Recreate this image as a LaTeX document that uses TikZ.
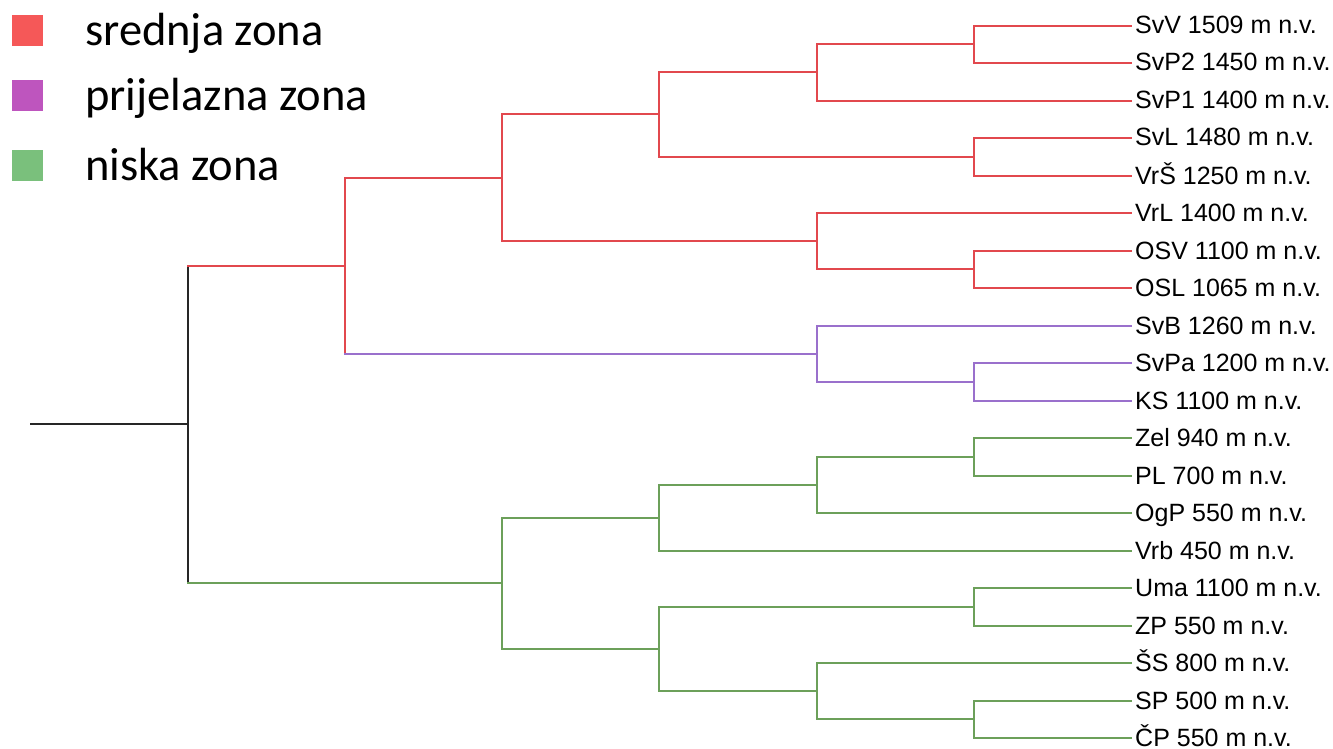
\documentclass[tikz,border=0pt]{standalone}
\usepackage{fontspec}
\setmainfont{Liberation Sans}
\newfontfamily\legfont{Carlito}
\definecolor{lred}{RGB}{226,72,78}
\definecolor{lpur}{RGB}{154,112,204}
\definecolor{lgrn}{RGB}{108,160,90}
\definecolor{kred}{RGB}{245,88,88}
\definecolor{kpur}{RGB}{190,85,190}
\definecolor{kgrn}{RGB}{122,192,124}
\tikzset{
  br/.style={line width=2pt, line cap=rect},
  leaflabel/.style={anchor=base west, inner sep=0pt, font=\fontsize{25}{30}\selectfont},
  legbox/.style={minimum size=31pt, inner sep=0pt, anchor=south west},
  legtext/.style={anchor=base west, inner sep=0pt, font=\legfont\fontsize{46.5}{55}\selectfont}
}
\begin{document}
\begin{tikzpicture}[x=1pt,y=-1pt]
\useasboundingbox (0,0) rectangle (1333,749);
% legend
\node[legbox, fill=kred] (k1) at (12,46) {};
\node[legbox, fill=kpur] (k2) at (12,111) {};
\node[legbox, fill=kgrn] (k3) at (12,181) {};
\node[legtext] (t1) at (85,45.5) {srednja zona};
\node[legtext] (t2) at (85,110.5) {prijelazna zona};
\node[legtext] (t3) at (85,180) {niska zona};
% leaves
\foreach \i/\y/\t in {0/26/SvV 1509 m n.v., 1/63/SvP2 1450 m n.v., 2/101/SvP1 1400 m n.v., 3/138/SvL 1480 m n.v., 4/176/VrŠ 1250 m n.v., 5/213/VrL 1400 m n.v., 6/251/OSV 1100 m n.v., 7/288/OSL 1065 m n.v., 8/326/SvB 1260 m n.v., 9/363/SvPa 1200 m n.v., 10/401/KS 1100 m n.v., 11/438/Zel 940 m n.v., 12/476/PL 700 m n.v., 13/513/OgP 550 m n.v., 14/551/Vrb 450 m n.v., 15/588/Uma 1100 m n.v., 16/626/ZP 550 m n.v., 17/663/ŠS 800 m n.v., 18/701/SP 500 m n.v., 19/738/ČP 550 m n.v.}{
  \coordinate (L\i) at (1131,\y);
  \node[leaflabel] (N\i) at (1135,{\y+8}) {\t};
}
% internal nodes
\coordinate (a1) at (974,44);
\coordinate (a2) at (817,72);
\coordinate (a3) at (974,157);
\coordinate (a4) at (659,114);
\coordinate (a5) at (974,269);
\coordinate (a6) at (817,241);
\coordinate (a7) at (502,178);
\coordinate (b1) at (974,382);
\coordinate (b2) at (817,354);
\coordinate (r) at (345,266);
\coordinate (g1) at (974,457);
\coordinate (g2) at (817,485);
\coordinate (g3) at (659,518);
\coordinate (g4) at (974,607);
\coordinate (g5) at (974,719);
\coordinate (g6) at (817,691);
\coordinate (g7) at (659,649);
\coordinate (g8) at (502,583);
\coordinate (root) at (188,424);
\coordinate (start) at (31,424);
% edges: parent colour / child colour
\foreach \p/\c/\pc/\cc in {
  a1/L0/lred/lred, a1/L1/lred/lred, a2/a1/lred/lred, a2/L2/lred/lred,
  a3/L3/lred/lred, a3/L4/lred/lred, a4/a2/lred/lred, a4/a3/lred/lred,
  a5/L6/lred/lred, a5/L7/lred/lred, a6/L5/lred/lred, a6/a5/lred/lred,
  a7/a4/lred/lred, a7/a6/lred/lred,
  b1/L9/lpur/lpur, b1/L10/lpur/lpur, b2/L8/lpur/lpur, b2/b1/lpur/lpur,
  r/a7/lred/lred, r/b2/lred/lpur,
  g1/L11/lgrn/lgrn, g1/L12/lgrn/lgrn, g2/g1/lgrn/lgrn, g2/L13/lgrn/lgrn,
  g3/g2/lgrn/lgrn, g3/L14/lgrn/lgrn, g4/L15/lgrn/lgrn, g4/L16/lgrn/lgrn,
  g5/L18/lgrn/lgrn, g5/L19/lgrn/lgrn, g6/L17/lgrn/lgrn, g6/g5/lgrn/lgrn,
  g7/g4/lgrn/lgrn, g7/g6/lgrn/lgrn, g8/g3/lgrn/lgrn, g8/g7/lgrn/lgrn,
  root/r/black!85/lred, root/g8/black!85/lgrn}{
  \draw[br, \pc] (\p) -- (\p |- \c);
  \draw[br, \cc] (\p |- \c) -- (\c);
}
\draw[br, black!85] (start) -- (root);
\end{tikzpicture}
\end{document}
